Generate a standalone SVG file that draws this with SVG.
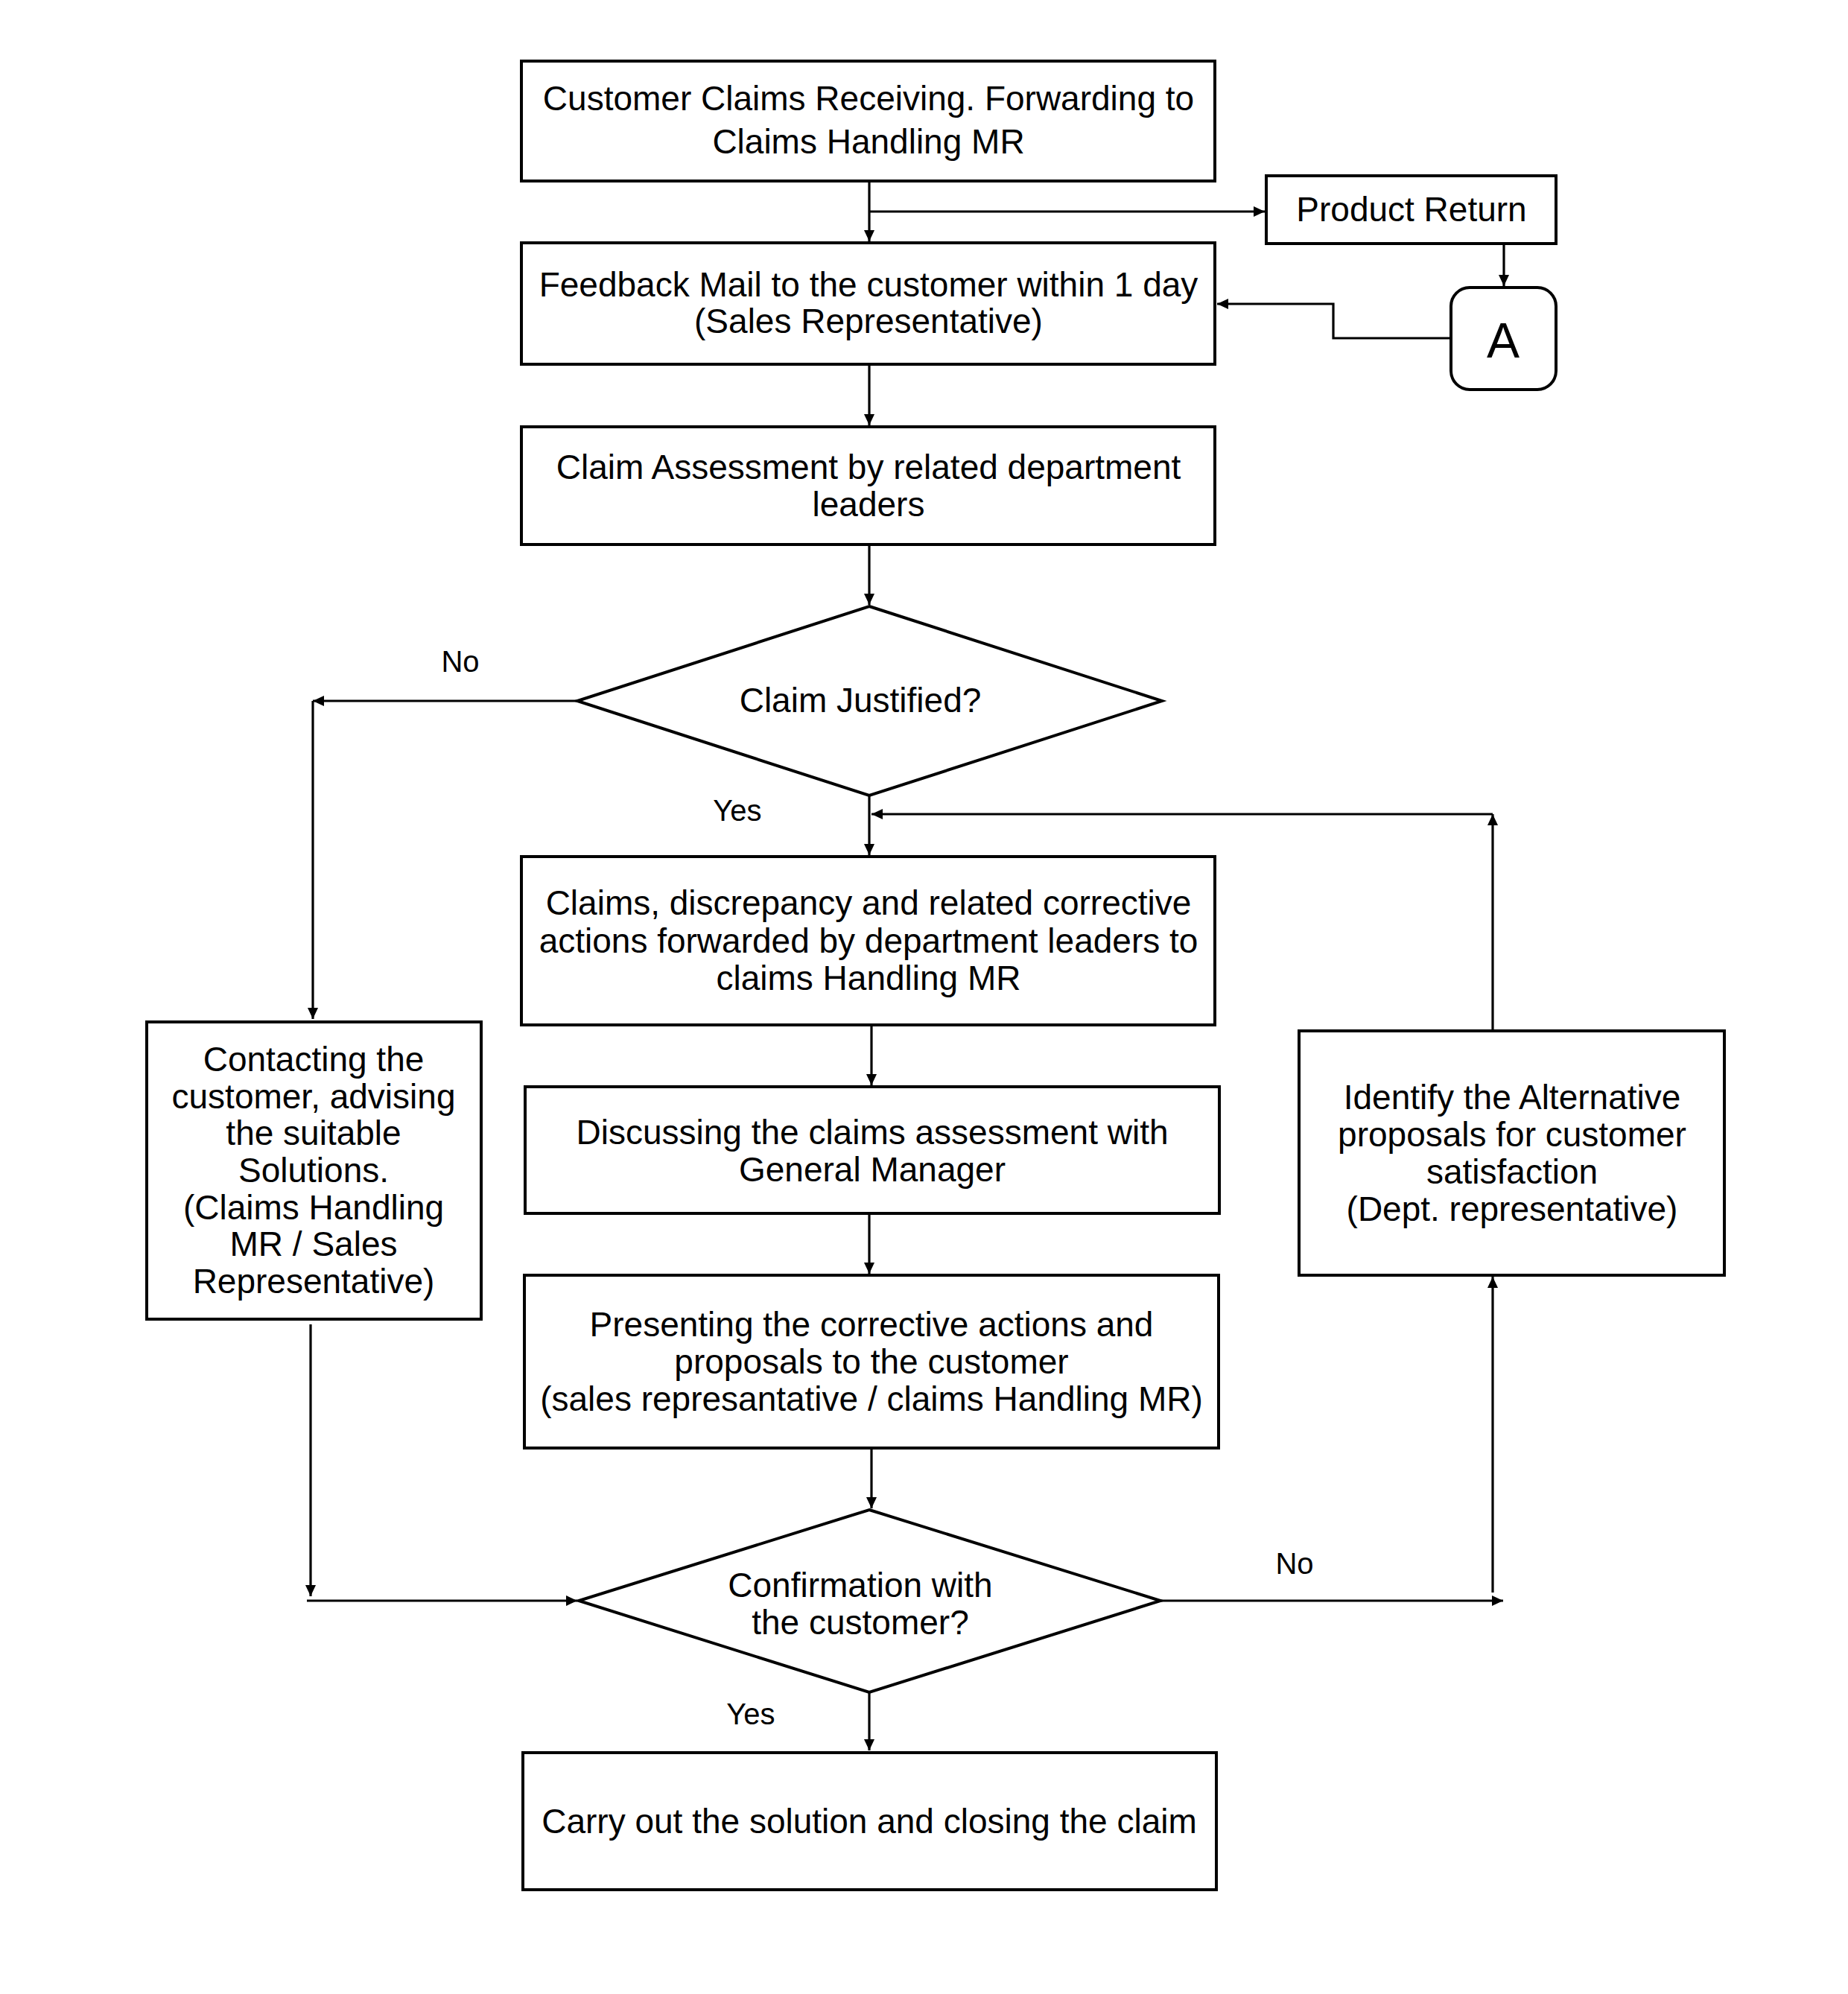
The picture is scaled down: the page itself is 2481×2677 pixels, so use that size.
<svg xmlns="http://www.w3.org/2000/svg" width="2481" height="2677" viewBox="0 0 2481 2677">
<defs>
<style>
.box{fill:#fff;stroke:#000;stroke-width:4}
.c{fill:none;stroke:#000;stroke-width:3.2}
text{font-family:"Liberation Sans",Arial,sans-serif;font-size:46px;fill:#000;text-anchor:middle}
.lbl{font-size:40px}
.big{font-size:66px}
</style>
<marker id="ah" markerUnits="userSpaceOnUse" markerWidth="16" markerHeight="14" refX="15" refY="7" orient="auto">
<path d="M0,0 L15,7 L0,14 z" fill="#000"/>
</marker>
</defs>
<rect width="2481" height="2677" fill="#fff"/>
<g id="connectors">
<path class="c" d="M1167,243 V324" marker-end="url(#ah)"/>
<path class="c" d="M1167,284 H1698" marker-end="url(#ah)"/>
<path class="c" d="M2019,327 V384" marker-end="url(#ah)"/>
<path class="c" d="M1948,454 H1790 V408 H1634" marker-end="url(#ah)"/>
<path class="c" d="M1167,489 V571" marker-end="url(#ah)"/>
<path class="c" d="M1167,731 V812" marker-end="url(#ah)"/>
<path class="c" d="M775,941 H420" marker-end="url(#ah)"/>
<path class="c" d="M420,941 V1368" marker-end="url(#ah)"/>
<path class="c" d="M1167,1068 V1148" marker-end="url(#ah)"/>
<path class="c" d="M2004,1093 H1170" marker-end="url(#ah)"/>
<path class="c" d="M2004,1384 V1093" marker-end="url(#ah)"/>
<path class="c" d="M1170,1376 V1457" marker-end="url(#ah)"/>
<path class="c" d="M1167,1629 V1710" marker-end="url(#ah)"/>
<path class="c" d="M1170,1944 V2025" marker-end="url(#ah)"/>
<path class="c" d="M417,1778 V2143" marker-end="url(#ah)"/>
<path class="c" d="M412,2149 H775" marker-end="url(#ah)"/>
<path class="c" d="M1558,2149 H2018" marker-end="url(#ah)"/>
<path class="c" d="M2004,2138 V1714" marker-end="url(#ah)"/>
<path class="c" d="M1167,2272 V2350" marker-end="url(#ah)"/>
</g>
<g id="n-receive">
<rect class="box" x="700" y="82" width="931" height="161"/>
<text x="1166" y="148">Customer Claims Receiving. Forwarding to</text>
<text x="1166" y="206">Claims Handling MR</text>
</g>
<g id="n-return">
<rect class="box" x="1700" y="236" width="389" height="91"/>
<text x="1895" y="297">Product Return</text>
</g>
<g id="n-a">
<rect class="box" x="1948" y="386" width="141" height="137" rx="25" ry="25"/>
<text class="big" x="2018" y="480">A</text>
</g>
<g id="n-feedback">
<rect class="box" x="700" y="326" width="931" height="163"/>
<text x="1166" y="398">Feedback Mail to the customer within 1 day</text>
<text x="1166" y="447">(Sales Representative)</text>
</g>
<g id="n-assess">
<rect class="box" x="700" y="573" width="931" height="158"/>
<text x="1166" y="643">Claim Assessment by related department</text>
<text x="1166" y="693">leaders</text>
</g>
<g id="n-justified">
<polygon class="box" points="1167,814 1560,941 1167,1068 775,941"/>
<text x="1155" y="956">Claim Justified?</text>
</g>
<text class="lbl" x="618" y="902">No</text>
<text class="lbl" x="990" y="1102">Yes</text>
<g id="n-forward">
<rect class="box" x="700" y="1150" width="931" height="226"/>
<text x="1166" y="1228">Claims, discrepancy and related corrective</text>
<text x="1166" y="1279">actions forwarded by department leaders to</text>
<text x="1166" y="1329">claims Handling MR</text>
</g>
<g id="n-discuss">
<rect class="box" x="705" y="1459" width="932" height="170"/>
<text x="1171" y="1536">Discussing the claims assessment with</text>
<text x="1171" y="1586">General Manager</text>
</g>
<g id="n-present">
<rect class="box" x="704" y="1712" width="932" height="232"/>
<text x="1170" y="1794">Presenting the corrective actions and</text>
<text x="1170" y="1844">proposals to the customer</text>
<text x="1170" y="1894">(sales represantative / claims Handling MR)</text>
</g>
<g id="n-contact">
<rect class="box" x="197" y="1372" width="449" height="399"/>
<text x="421" y="1438">Contacting the</text>
<text x="421" y="1488">customer, advising</text>
<text x="421" y="1537">the suitable</text>
<text x="421" y="1587">Solutions.</text>
<text x="421" y="1637">(Claims Handling</text>
<text x="421" y="1686">MR / Sales</text>
<text x="421" y="1736">Representative)</text>
</g>
<g id="n-alternative">
<rect class="box" x="1744" y="1384" width="571" height="328"/>
<text x="2030" y="1489">Identify the Alternative</text>
<text x="2030" y="1539">proposals for customer</text>
<text x="2030" y="1589">satisfaction</text>
<text x="2030" y="1639">(Dept. representative)</text>
</g>
<g id="n-confirm">
<polygon class="box" points="1167,2027 1558,2149 1167,2272 777,2149"/>
<text x="1155" y="2144">Confirmation with</text>
<text x="1155" y="2194">the customer?</text>
</g>
<text class="lbl" x="1738" y="2113">No</text>
<text class="lbl" x="1008" y="2315">Yes</text>
<g id="n-close">
<rect class="box" x="702" y="2353" width="931" height="184"/>
<text x="1167" y="2461">Carry out the solution and closing the claim</text>
</g>
</svg>
